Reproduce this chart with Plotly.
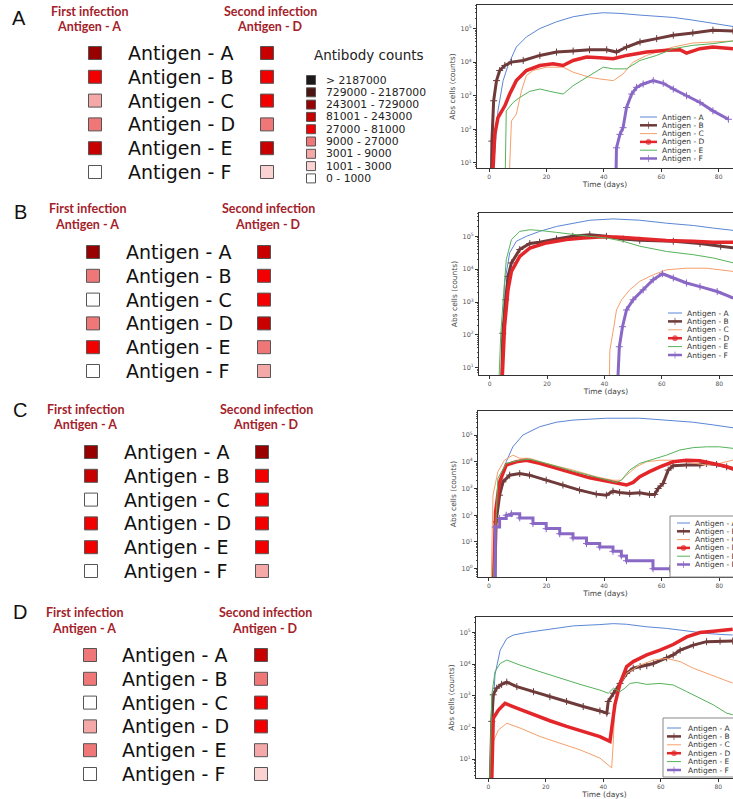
import numpy as np
import plotly.graph_objects as go

W, H = 733, 799

# ---------------------------------------------------------------- data
antigens = ["A", "B", "C", "D", "E", "F"]
antigen_labels = ["Antigen - A", "Antigen - B", "Antigen - C",
                  "Antigen - D", "Antigen - E", "Antigen - F"]
panel_letters = ["A", "B", "C", "D"]
header_first = ["First infection", "Antigen - A"]
header_second = ["Second infection", "Antigen - D"]

count_bin_labels = ["> 2187000", "729000 - 2187000", "243001 - 729000",
                    "81001 - 243000", "27000 - 81000", "9000 - 27000",
                    "3001 - 9000", "1001 - 3000", "0 - 1000"]
count_bin_levels = [8, 7, 6, 5, 4, 3, 2, 1, 0]

# antibody-count bin (0 = "0 - 1000" ... 8 = "> 2187000") for antigens A-F
A_first_level = [6, 4, 2, 3, 5, 0]
A_second_level = [5, 4, 4, 3, 5, 1]
B_first_level = [6, 3, 0, 3, 4, 0]
B_second_level = [5, 4, 4, 5, 3, 2]
C_first_level = [6, 5, 0, 4, 4, 0]
C_second_level = [6, 4, 4, 4, 4, 2]
D_first_level = [3, 3, 0, 2, 3, 0]
D_second_level = [5, 3, 4, 4, 2, 1]

# time courses: day, log10(Abs cells)
pA_day_A = [1.2, 3.1, 4.9, 6.6, 9.5, 13.0, 17.7, 23.5, 29.3, 35.0, 39.8, 45.6, 52.6, 58.4, 64.2, 71.0, 78.0, 85.0]
pA_log_A = [0.5, 2.55, 3.45, 3.9, 4.45, 4.75, 5.0, 5.2, 5.35, 5.43, 5.47, 5.45, 5.4, 5.37, 5.33, 5.25, 5.15, 5.06]
pA_day_B = [0.8, 1.0, 1.6, 2.6, 3.7, 5.5, 7.8, 11.9, 17.7, 23.5, 29.3, 35.0, 41.0, 44.4, 47.9, 52.6, 58.4, 64.2, 71.0, 78.0, 85.0]
pA_log_B = [0.5, 1.65, 2.85, 3.45, 3.75, 3.9, 4.0, 4.05, 4.2, 4.3, 4.33, 4.37, 4.37, 4.3, 4.45, 4.6, 4.7, 4.8, 4.87, 4.95, 4.93]
pA_day_C = [7.0, 7.8, 9.5, 11.3, 13.0, 15.3, 20.0, 25.8, 29.3, 35.0, 38.6, 43.3, 46.7, 50.2, 54.9, 64.2, 71.0, 78.0, 85.0]
pA_log_C = [0.5, 2.25, 2.45, 3.15, 3.6, 3.75, 3.85, 3.85, 3.7, 3.55, 3.5, 3.45, 3.65, 4.0, 4.2, 4.45, 4.57, 4.6, 4.63]
pA_day_D = [1.2, 2.0, 3.1, 5.5, 7.2, 9.5, 13.0, 17.7, 22.3, 25.8, 29.3, 34.0, 38.6, 43.3, 47.9, 54.9, 62.0, 66.5, 68.8, 73.5, 78.0, 85.0]
pA_log_D = [0.5, 1.85, 2.35, 2.7, 3.05, 3.45, 3.75, 3.9, 3.95, 3.9, 4.05, 4.15, 4.13, 4.1, 4.2, 4.3, 4.35, 4.37, 4.27, 4.4, 4.45, 4.4]
pA_day_E = [5.6, 6.0, 8.4, 10.7, 14.2, 17.7, 21.2, 25.8, 29.3, 34.0, 39.8, 43.3, 47.9, 52.6, 58.4, 64.2, 71.0, 78.0, 85.0]
pA_log_E = [0.5, 2.55, 2.8, 2.95, 3.13, 3.2, 3.13, 3.05, 3.3, 3.55, 3.85, 3.8, 3.8, 4.05, 4.2, 4.4, 4.5, 4.55, 4.63]
pA_day_F = [44.2, 44.4, 45.6, 46.7, 47.9, 49.7, 51.4, 53.7, 57.2, 60.7, 64.2, 68.8, 73.5, 78.0, 83.4]
pA_log_F = [0.5, 1.45, 1.85, 2.05, 2.65, 3.05, 3.25, 3.35, 3.45, 3.37, 3.2, 3.0, 2.8, 2.55, 2.3]

pB_day_A = [4.0, 5.2, 7.0, 9.3, 12.8, 17.4, 23.3, 29.0, 34.9, 43.0, 52.3, 61.6, 71.0, 78.0, 85.0]
pB_log_A = [0.5, 3.57, 4.5, 4.85, 5.0, 5.15, 5.3, 5.4, 5.49, 5.53, 5.49, 5.4, 5.33, 5.25, 5.18]
pB_day_B = [4.2, 4.6, 5.6, 6.4, 7.6, 10.5, 14.0, 17.4, 23.3, 29.0, 34.9, 40.7, 46.5, 52.3, 64.0, 73.3, 80.5, 85.0]
pB_log_B = [0.5, 2.05, 3.07, 3.78, 4.19, 4.6, 4.78, 4.82, 4.92, 5.0, 5.05, 5.0, 4.92, 4.88, 4.85, 4.78, 4.7, 4.65]
pB_day_C = [41.7, 41.9, 43.3, 44.2, 46.0, 48.8, 52.3, 57.0, 61.6, 68.6, 75.6, 81.4, 85.0]
pB_log_C = [0.5, 1.54, 2.25, 2.76, 3.07, 3.37, 3.63, 3.83, 3.98, 4.03, 4.03, 3.98, 3.93]
pB_day_D = [4.3, 5.2, 6.4, 7.6, 10.5, 14.0, 19.8, 26.7, 32.6, 38.4, 44.2, 52.3, 61.6, 70.9, 78.0, 85.0]
pB_log_D = [0.5, 2.25, 3.37, 3.93, 4.39, 4.64, 4.8, 4.9, 4.95, 4.98, 4.98, 4.92, 4.87, 4.85, 4.82, 4.82]
pB_day_E = [3.2, 3.9, 4.9, 5.8, 7.6, 10.5, 14.0, 17.4, 23.3, 29.0, 34.9, 40.7, 46.5, 52.3, 61.6, 71.0, 78.0, 85.0]
pB_log_E = [0.5, 2.05, 3.27, 4.29, 4.9, 5.15, 5.2, 5.18, 5.12, 5.05, 5.0, 4.95, 4.85, 4.7, 4.54, 4.44, 4.34, 4.19]
pB_day_F = [44.6, 45.2, 46.3, 47.7, 50.0, 53.5, 57.0, 60.2, 64.0, 68.6, 73.3, 79.3, 85.0]
pB_log_F = [0.5, 1.64, 2.25, 2.76, 3.07, 3.37, 3.68, 3.86, 3.73, 3.58, 3.47, 3.32, 3.12]

pC_day_A = [1.3, 2.6, 4.3, 6.0, 8.3, 11.8, 17.6, 23.4, 29.2, 35.0, 40.8, 52.4, 61.7, 71.0, 77.9, 85.0]
pC_log_A = [-1.0, 2.38, 3.31, 4.0, 4.56, 5.0, 5.31, 5.48, 5.56, 5.6, 5.63, 5.63, 5.56, 5.48, 5.38, 5.27]
pC_day_B = [1.9, 2.5, 3.7, 4.9, 7.2, 10.7, 14.1, 19.9, 25.7, 31.5, 37.3, 40.8, 43.1, 45.4, 48.9, 52.4, 55.8, 57.6, 58.8, 60.5, 62.3, 64.0, 68.6, 73.3, 75.6, 79.1, 82.6, 85.0]
pC_log_B = [-1.0, 1.75, 2.75, 3.25, 3.5, 3.56, 3.5, 3.31, 3.13, 2.94, 2.79, 2.75, 2.9, 2.85, 2.81, 2.84, 2.78, 2.78, 3.0, 3.19, 3.69, 3.85, 3.88, 3.88, 3.94, 3.9, 3.81, 3.72]
pC_day_C = [0.7, 1.4, 3.1, 5.4, 8.3, 10.7, 14.1, 19.9, 29.2, 37.3, 43.1, 46.0, 47.8, 51.2, 54.7, 59.4, 64.0, 71.0, 75.6, 80.2, 85.0]
pC_log_C = [-1.0, 2.75, 3.63, 4.06, 4.25, 4.13, 4.13, 3.94, 3.69, 3.44, 3.31, 3.31, 3.5, 3.81, 4.0, 4.06, 4.06, 3.94, 3.88, 3.94, 4.07]
pC_day_D = [1.5, 2.3, 3.7, 6.0, 9.5, 13.0, 17.6, 23.4, 29.2, 35.0, 40.8, 45.4, 47.8, 50.1, 52.4, 55.8, 59.4, 64.0, 68.6, 73.3, 77.9, 81.4, 85.0]
pC_log_D = [-1.0, 2.13, 3.25, 3.88, 4.0, 4.06, 3.94, 3.75, 3.56, 3.4, 3.28, 3.19, 3.13, 3.23, 3.44, 3.63, 3.81, 4.0, 4.06, 4.04, 3.94, 3.85, 3.74]
pC_day_E = [1.3, 3.1, 6.0, 10.7, 14.1, 19.9, 29.2, 38.6, 44.3, 46.0, 48.9, 52.4, 57.0, 61.7, 66.3, 71.0, 75.6, 80.2, 85.0]
pC_log_E = [-1.0, 3.38, 3.94, 4.06, 4.1, 3.94, 3.65, 3.38, 3.23, 3.31, 3.69, 3.94, 4.1, 4.25, 4.44, 4.53, 4.56, 4.56, 4.5]
pC_day_F = [1.5, 2.2, 3.7, 6.0, 7.8, 10.7, 15.3, 19.9, 24.6, 29.2, 33.9, 38.5, 43.1, 46.0, 47.8, 57.0, 62.8]
pC_log_F = [-1.0, 1.56, 1.88, 2.0, 2.06, 1.9, 1.69, 1.5, 1.31, 1.15, 0.94, 0.81, 0.65, 0.48, 0.3, 0.0, 0.0]

pD_day_A = [0.5, 1.2, 2.3, 4.1, 6.4, 8.7, 13.3, 20.3, 29.6, 38.8, 43.5, 48.1, 55.1, 62.0, 69.0, 75.9, 80.6, 85.0]
pD_log_A = [0.0, 1.77, 3.66, 4.44, 4.81, 4.92, 5.0, 5.1, 5.21, 5.25, 5.28, 5.26, 5.18, 5.13, 5.04, 4.97, 4.94, 4.92]
pD_day_B = [0.6, 1.2, 1.7, 2.9, 4.6, 6.4, 9.9, 15.7, 21.4, 27.2, 33.0, 38.8, 41.2, 41.7, 43.5, 45.8, 48.1, 50.4, 52.8, 55.1, 57.4, 62.0, 64.3, 66.7, 71.3, 75.9, 80.6, 85.0]
pD_log_B = [0.0, 2.19, 3.03, 3.24, 3.36, 3.43, 3.29, 3.13, 2.97, 2.82, 2.66, 2.52, 2.45, 2.82, 3.08, 3.39, 3.71, 3.87, 3.92, 3.95, 4.02, 4.2, 4.29, 4.44, 4.6, 4.71, 4.73, 4.73]
pD_day_C = [1.1, 1.7, 3.5, 6.4, 11.0, 18.0, 24.9, 31.9, 38.8, 42.9, 43.4, 44.0, 45.8, 48.1, 52.8, 57.4, 62.0, 66.7, 71.3, 75.9, 80.6, 85.0]
pD_log_C = [0.0, 1.56, 1.92, 2.13, 1.98, 1.71, 1.5, 1.29, 1.03, 0.72, 1.45, 2.71, 3.34, 3.71, 3.97, 4.13, 4.18, 4.08, 3.87, 3.71, 3.55, 3.4]
pD_day_D = [1.1, 1.7, 3.5, 5.8, 9.9, 15.7, 21.4, 27.2, 33.0, 38.8, 42.3, 42.9, 44.0, 45.8, 48.1, 50.4, 55.1, 59.7, 64.3, 69.0, 73.6, 78.3, 82.9, 85.0]
pD_log_D = [0.0, 2.29, 2.55, 2.76, 2.61, 2.4, 2.21, 2.03, 1.87, 1.71, 1.56, 1.98, 2.71, 3.39, 3.92, 4.08, 4.29, 4.44, 4.62, 4.86, 5.0, 5.04, 5.09, 5.1]
pD_day_E = [0.4, 1.2, 2.3, 4.1, 6.4, 11.0, 18.0, 24.9, 31.9, 38.8, 41.7, 43.5, 45.8, 47.5, 49.3, 51.6, 55.1, 59.7, 64.3, 69.0, 73.6, 78.3, 82.9, 85.0]
pD_log_E = [0.0, 3.03, 3.76, 4.02, 4.13, 3.97, 3.76, 3.55, 3.36, 3.18, 3.08, 3.24, 3.13, 3.24, 3.39, 3.42, 3.36, 3.39, 3.34, 3.13, 2.92, 2.71, 2.45, 2.4]
pD_day_F = []
pD_log_F = []

x_tick_vals = [0, 20, 40, 60, 80]
y_tick_exponents = [0, 1, 2, 3, 4, 5, 6]
x_title = "Time (days)"
y_title = "Abs cells (counts)"

# ---------------------------------------------------------------- tables built from the arrays
levels = {
    "A": (A_first_level, A_second_level), "B": (B_first_level, B_second_level),
    "C": (C_first_level, C_second_level), "D": (D_first_level, D_second_level),
}
series = {
    "A": [(pA_day_A, pA_log_A), (pA_day_B, pA_log_B), (pA_day_C, pA_log_C), (pA_day_D, pA_log_D), (pA_day_E, pA_log_E), (pA_day_F, pA_log_F)],
    "B": [(pB_day_A, pB_log_A), (pB_day_B, pB_log_B), (pB_day_C, pB_log_C), (pB_day_D, pB_log_D), (pB_day_E, pB_log_E), (pB_day_F, pB_log_F)],
    "C": [(pC_day_A, pC_log_A), (pC_day_B, pC_log_B), (pC_day_C, pC_log_C), (pC_day_D, pC_log_D), (pC_day_E, pC_log_E), (pC_day_F, pC_log_F)],
    "D": [(pD_day_A, pD_log_A), (pD_day_B, pD_log_B), (pD_day_C, pD_log_C), (pD_day_D, pD_log_D), (pD_day_E, pD_log_E), (pD_day_F, pD_log_F)],
}

# ---------------------------------------------------------------- styles / layout constants
level_colors = ["#ffffff", "#fad2d2", "#f5a8a8", "#f07777", "#f20000",
                "#c80000", "#990000", "#4d1414", "#1e1a1a"]
line_styles = {
    "A": dict(color="#5b86d6", width=1),
    "B": dict(color="#6e3a3a", width=3),
    "C": dict(color="#f5a06b", width=1),
    "D": dict(color="#e3262a", width=3.5),
    "E": dict(color="#55b35a", width=1),
    "F": dict(color="#8a68c6", width=3),
}
legend_marker = {"B": "cross-thin", "D": "circle", "F": "cross-thin"}

# plot frames in px: left, top, bottom
frames = {"A": (477, 5, 168), "B": (479, 213, 375), "C": (478, 411, 577), "D": (476, 617, 778)}
xranges = {"A": [-4.2, 85], "B": [-3.7, 84.8], "C": [-3.8, 84.8], "D": [-4.3, 85.1]}
yranges = {"A": [0.85, 5.7], "B": [0.78, 5.71], "C": [-0.31, 5.9], "D": [0.4, 5.49]}

letter_pos = {"A": (19, 18), "B": (20, 212), "C": (20, 410), "D": (20, 612)}
header_y = {"A": (11, 26), "B": (208, 224), "C": (409, 424), "D": (612, 628)}
header_x = {"A": (89, 270), "B": (87, 268), "C": (85, 266), "D": (84, 265)}
square_x = {"A": (95, 267), "B": (93, 264), "C": (91, 262), "D": (90, 261)}
label_x = {"A": 126, "B": 124, "C": 122, "D": 120}
row0_y = {"A": 53, "B": 252, "C": 452, "D": 655}
row_step = 23.8

# legend in the line plots: sample x0, x1, text x, first row y, step, box (x0, y0, y1) or None
leg = {
    "A": (640, 657, 660, 117, 8.3, None),
    "B": (668, 682, 685, 313, 8.4, None),
    "C": (677, 690, 693, 523, 8.3, (670, 516, 577)),
    "D": (667, 681, 686, 728, 8.4, (663, 718, 777)),
}

header_color = "#a3222a"

fig = go.Figure()
annotations = []


def ann(text, x, y, size, color="#111", family="DejaVu Sans", xanchor="left"):
    annotations.append(dict(text=text, x=x, y=y, xref="x5", yref="y5", showarrow=False,
                            xanchor=xanchor, yanchor="middle",
                            font=dict(size=size, color=color, family=family)))


# ---------------------------------------------------------------- line subplots
for k, p in enumerate(panel_letters, start=1):
    for a, (d, lg) in zip(antigens, series[p]):
        st = line_styles[a]
        kw = dict(mode="lines")
        if a in ("B", "F"):
            kw = dict(mode="lines+markers",
                      marker=dict(symbol="cross-thin", size=5,
                                  line=dict(width=1, color=st["color"])))
        fig.add_trace(go.Scatter(
            x=d, y=np.power(10.0, np.array(lg, dtype=float)),
            line=dict(color=st["color"], width=st["width"],
                      shape="hv" if (p == "C" and a == "F") else "linear"),
            xaxis=f"x{k}", yaxis=f"y{k}", showlegend=False, name=f"Antigen - {a}", **kw))

    left, top, bottom = frames[p]
    fig.layout[f"xaxis{k}"] = dict(
        domain=[left / W, 1.0], range=xranges[p], anchor=f"y{k}",
        showline=True, mirror=True, linecolor="#333", linewidth=1,
        ticks="outside", ticklen=2.5, tickcolor="#333", tickvals=x_tick_vals,
        tickfont=dict(size=6, color="#555", family="DejaVu Sans"),
        title=dict(text=x_title, font=dict(size=7.5, color="#444", family="DejaVu Sans"), standoff=1),
        showgrid=False, zeroline=False)
    fig.layout[f"yaxis{k}"] = dict(
        domain=[1 - bottom / H, 1 - top / H], type="log", range=yranges[p], anchor=f"x{k}",
        tickvals=[10.0 ** e for e in y_tick_exponents],
        ticktext=[f"10<sup>{e}</sup>" for e in y_tick_exponents],
        showline=True, mirror=False,
        linecolor="#333", linewidth=1, ticks="outside", ticklen=3, tickcolor="#333",
        minor=dict(ticks="outside", ticklen=1.5, tickcolor="#555", dtick="D1", showgrid=False),
        tickfont=dict(size=6.5, color="#555", family="DejaVu Sans"),
        title=dict(text=y_title, font=dict(size=7.5, color="#444", family="DejaVu Sans"), standoff=3),
        showgrid=False, zeroline=False)

# ---------------------------------------------------------------- overlay (left panels + legends)
for p in panel_letters:
    first, second = levels[p]
    xs, ys, cs = [], [], []
    for col, lv in enumerate((first, second)):
        for i, l in enumerate(lv):
            xs.append(square_x[p][col])
            ys.append(row0_y[p] + i * row_step)
            cs.append(level_colors[l])
    fig.add_trace(go.Scatter(x=xs, y=ys, mode="markers", xaxis="x5", yaxis="y5",
                             showlegend=False, hoverinfo="skip",
                             marker=dict(symbol="square", size=13, color=cs,
                                         line=dict(color="#555", width=1))))
    for i, lab in enumerate(antigen_labels):
        ann(lab, label_x[p], row0_y[p] + i * row_step, 19)
    lx, ly = letter_pos[p]
    ann(p, lx, ly, 20, color="#111", family="Liberation Sans", xanchor="center")
    for j, txt in enumerate(header_first):
        ann(f"<b>{txt}</b>", header_x[p][0], header_y[p][j], 12.5, color=header_color,
            family="Lato", xanchor="center")
    for j, txt in enumerate(header_second):
        ann(f"<b>{txt}</b>", header_x[p][1], header_y[p][j], 12.5, color=header_color,
            family="Lato", xanchor="center")

    # legend of the line plot
    x0, x1, tx, y0, step, box = leg[p]
    if box is not None:
        bx, by0, by1 = box
        fig.add_trace(go.Scatter(x=[bx, W + 5, W + 5, bx, bx], y=[by0, by0, by1, by1, by0],
                                 mode="lines", fill="toself", fillcolor="white",
                                 line=dict(color="#888", width=1), xaxis="x5", yaxis="y5",
                                 showlegend=False, hoverinfo="skip"))
    for i, a in enumerate(antigens):
        st = line_styles[a]
        yy = y0 + i * step
        msym = legend_marker.get(a, "circle")
        fig.add_trace(go.Scatter(
            x=[x0, (x0 + x1) / 2, x1], y=[yy, yy, yy], mode="lines+markers",
            line=dict(color=st["color"], width=min(st["width"], 2.5)),
            marker=dict(symbol=msym, size=[0, 5 if a in legend_marker else 0, 0],
                        color=st["color"], line=dict(width=1, color=st["color"])),
            xaxis="x5", yaxis="y5", showlegend=False, hoverinfo="skip"))
        ann(antigen_labels[i], tx, yy, 7.5, color="#333")

# antibody count colour key
key_x, key_text_x, key_y0, key_step = 311, 324, 80, 12.3
fig.add_trace(go.Scatter(
    x=[key_x] * len(count_bin_levels),
    y=[key_y0 + i * key_step for i in range(len(count_bin_levels))],
    mode="markers", xaxis="x5", yaxis="y5", showlegend=False, hoverinfo="skip",
    marker=dict(symbol="square", size=9, color=[level_colors[l] for l in count_bin_levels],
                line=dict(color="#555", width=1))))
for i, lab in enumerate(count_bin_labels):
    ann(lab, key_text_x, key_y0 + i * key_step, 10.8, color="#222")
ann("Antibody counts", 369, 55, 13.5, color="#222", xanchor="center")

fig.update_layout(
    width=W, height=H, margin=dict(l=0, r=0, t=0, b=0),
    paper_bgcolor="white", plot_bgcolor="rgba(0,0,0,0)", showlegend=False,
    xaxis5=dict(domain=[0, 1], range=[0, W], visible=False, anchor="y5", fixedrange=True),
    yaxis5=dict(domain=[0, 1], range=[H, 0], visible=False, anchor="x5", fixedrange=True),
    annotations=annotations,
    font=dict(family="DejaVu Sans"),
)

fig.write_html("out.html")
